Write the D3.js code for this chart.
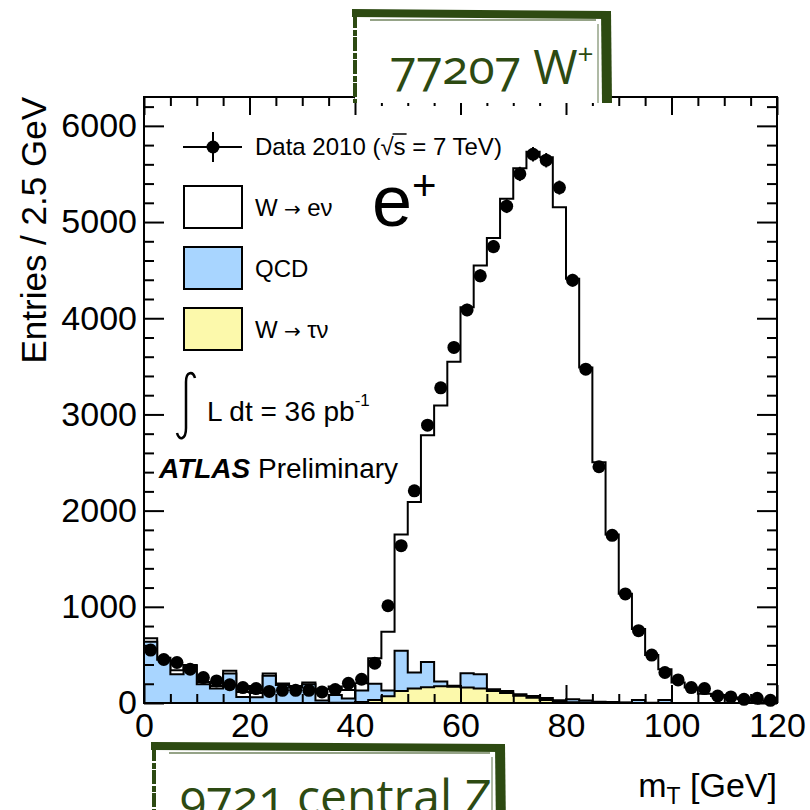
<!DOCTYPE html>
<html>
<head>
<meta charset="utf-8">
<script src="https://cdn.jsdelivr.net/npm/d3@7"></script>
<style>
  body { margin: 0; background: #fff; }
  svg { display: block; }
  .axis text { font-family: "Liberation Sans", Arial, sans-serif; font-size: 34px; fill: #000; }
  .axis line { stroke: #000; stroke-width: 2px; }
  .axis path { display: none; }
</style>
</head>
<body>
<div id="chart"></div>
<script>
'use strict';
// bins of 2.5 GeV from 0 to 120
var binWidth = 2.5;
var data = [550, 452, 421, 351, 264, 230, 190, 160, 150, 120, 132, 132, 132, 115, 140, 205, 247, 414,
    1011, 1636, 2206, 2888, 3277, 3697, 4086, 4441, 4745, 5165, 5500, 5705, 5643, 5358, 4395, 3470,
    2456, 1743, 1134, 752, 498, 317, 240, 160, 150, 73, 63, 38, 49, 28];
var wenu = [35, 20, 40, 10, 24, 27, 28, 52, 45, 24, 14, 17, 17, 117, 90, 87, 75, 264,
    611, 1208, 1773, 2359, 2869, 3367, 3803, 4249, 4691, 5117, 5468, 5659, 5620, 5125, 4372, 3464,
    2488, 1740, 1130, 738, 495, 320, 211, 159, 96, 72, 56, 38, 28, 21];
var qcd = [637, 450, 300, 386, 195, 150, 306, 63, 60, 282, 188, 160, 195, 25, 80, 45, 120, 170,
    60, 418, 167, 260, 48, 10, 150, 150, 18, 20, 15, 18, 23, 13, 30, 20,
    10, 8, 3, 30, 2, 30, 1, 1, 0, 0, 0, 0, 0, 0];
var wtau = [0, 0, 0, 0, 0, 0, 0, 0, 0, 0, 0, 0, 0, 0, 2, 3, 10, 30,
    70, 125, 150, 165, 175, 170, 160, 150, 125, 105, 75, 55, 30, 15, 8, 5,
    4, 3, 2, 1, 1, 1, 0, 0, 0, 0, 0, 0, 0, 0];
var yMajor = [0, 1000, 2000, 3000, 4000, 5000, 6000];
var xMajor = [0, 20, 40, 60, 80, 100, 120];

var width = 810, height = 810;
var frameL = 144, frameR = 777, frameT = 97, frameB = 703;
var fontFamily = '"Liberation Sans", Arial, sans-serif';
var green = '#2d4a12';

var x = d3.scaleLinear().domain([0, 120]).range([frameL, frameR]);
var y = d3.scaleLinear().domain([0, 6300]).range([frameB, frameT]);

var svg = d3.select('#chart').append('svg')
    .attr('width', width)
    .attr('height', height);

// stacked tops
var s1 = wtau.slice();
var s2 = wtau.map(function (v, i) { return v + qcd[i]; });
var s3 = s2.map(function (v, i) { return v + wenu[i]; });

var stepPath = function (vals) {
    var p = 'M' + x(0) + ',' + y(0);
    vals.forEach(function (v, i) {
        p += 'L' + x(i * binWidth) + ',' + y(v) + 'L' + x((i + 1) * binWidth) + ',' + y(v);
    });
    p += 'L' + x(120) + ',' + y(0) + 'Z';
    return p;
};

var hists = svg.append('g').attr('class', 'hists');
[[s3, '#ffffff'], [s2, '#a8d5ff'], [s1, '#fcf9ab']].forEach(function (h) {
    hists.append('path')
        .attr('d', stepPath(h[0]))
        .attr('fill', h[1])
        .attr('stroke', '#000')
        .attr('stroke-width', 2)
        .attr('stroke-linejoin', 'miter');
});

// data points with poisson errors
var pts = svg.append('g').attr('class', 'data');
pts.selectAll('line').data(data).enter().append('line')
    .attr('x1', function (d, i) { return x((i + 0.5) * binWidth); })
    .attr('x2', function (d, i) { return x((i + 0.5) * binWidth); })
    .attr('y1', function (d) { return y(d + Math.sqrt(d)); })
    .attr('y2', function (d) { return y(d - Math.sqrt(d)); })
    .attr('stroke', '#000').attr('stroke-width', 2);
pts.selectAll('circle').data(data).enter().append('circle')
    .attr('cx', function (d, i) { return x((i + 0.5) * binWidth); })
    .attr('cy', function (d) { return y(d); })
    .attr('r', 6.5)
    .attr('fill', '#000');

// axes
var yMinor = d3.range(0, 6301, 200).filter(function (v) { return v % 1000 !== 0; });
var xMinor = d3.range(0, 121, 5).filter(function (v) { return v % 20 !== 0; });

svg.append('g').attr('class', 'axis')
    .attr('transform', 'translate(' + frameL + ',0)')
    .call(d3.axisLeft(y).tickValues(yMajor).tickSize(-20).tickPadding(7).tickFormat(d3.format('d')));
svg.append('g').attr('class', 'axis')
    .attr('transform', 'translate(' + frameL + ',0)')
    .call(d3.axisLeft(y).tickValues(yMinor).tickSize(-10).tickFormat(''));
svg.append('g').attr('class', 'axis')
    .attr('transform', 'translate(' + frameR + ',0)')
    .call(d3.axisRight(y).tickValues(yMajor).tickSize(-20).tickFormat(''));
svg.append('g').attr('class', 'axis')
    .attr('transform', 'translate(' + frameR + ',0)')
    .call(d3.axisRight(y).tickValues(yMinor).tickSize(-10).tickFormat(''));

svg.append('g').attr('class', 'axis')
    .attr('transform', 'translate(0,' + frameB + ')')
    .call(d3.axisBottom(x).tickValues(xMajor).tickSize(-18).tickPadding(10));
svg.append('g').attr('class', 'axis')
    .attr('transform', 'translate(0,' + frameB + ')')
    .call(d3.axisBottom(x).tickValues(xMinor).tickSize(-9).tickFormat(''));
svg.append('g').attr('class', 'axis')
    .attr('transform', 'translate(0,' + frameT + ')')
    .call(d3.axisTop(x).tickValues(xMajor).tickSize(-18).tickFormat(''));
svg.append('g').attr('class', 'axis')
    .attr('transform', 'translate(0,' + frameT + ')')
    .call(d3.axisTop(x).tickValues(xMinor).tickSize(-9).tickFormat(''));

svg.append('rect')
    .attr('x', frameL).attr('y', frameT)
    .attr('width', frameR - frameL).attr('height', frameB - frameT)
    .attr('fill', 'none').attr('stroke', '#000').attr('stroke-width', 2);

// axis titles
svg.append('text')
    .attr('transform', 'translate(46,' + frameT + ') rotate(-90)')
    .attr('text-anchor', 'end')
    .attr('font-family', fontFamily).attr('font-size', 35)
    .text('Entries / 2.5 GeV');
var xt = svg.append('text')
    .attr('x', frameR).attr('y', 797)
    .attr('text-anchor', 'end')
    .attr('font-family', fontFamily).attr('font-size', 34);
xt.append('tspan').text('m');
xt.append('tspan').attr('font-size', 23).attr('dy', 7).text('T');
xt.append('tspan').attr('dy', -7).text(' [GeV]');

// legend
var leg = svg.append('g').attr('font-family', fontFamily);
leg.append('line').attr('x1', 183).attr('x2', 242).attr('y1', 147).attr('y2', 147)
    .attr('stroke', '#000').attr('stroke-width', 2);
leg.append('line').attr('x1', 213).attr('x2', 213).attr('y1', 132).attr('y2', 162)
    .attr('stroke', '#000').attr('stroke-width', 2);
leg.append('circle').attr('cx', 213).attr('cy', 147).attr('r', 6.5).attr('fill', '#000');
var dataLabel = leg.append('text').attr('x', 255).attr('y', 155).attr('font-size', 24)
    .text('Data 2010 (\u221As = 7 TeV)');
// overline for the square root
var sqrtNode = dataLabel.node();
var sStart = sqrtNode.getStartPositionOfChar(12);
var sEnd = sqrtNode.getEndPositionOfChar(12);
leg.append('line')
    .attr('x1', sStart.x - 1).attr('x2', sEnd.x + 1)
    .attr('y1', 134).attr('y2', 134)
    .attr('stroke', '#000').attr('stroke-width', 1.5);

var legItems = [['W', 'e\u03BD', '#ffffff', 186], ['QCD', '', '#a8d5ff', 247], ['W', '\u03C4\u03BD', '#fcf9ab', 308]];
legItems.forEach(function (it) {
    leg.append('rect').attr('x', 184).attr('y', it[3]).attr('width', 58).attr('height', 42)
        .attr('fill', it[2]).attr('stroke', '#000').attr('stroke-width', 2);
    var t = leg.append('text').attr('x', 255).attr('y', it[3] + 30).attr('font-size', 24);
    t.append('tspan').text(it[0]);
    if (it[1]) {
        t.append('tspan').attr('font-family', '"DejaVu Sans", sans-serif').attr('font-size', 20).text(' \u2192 ');
        t.append('tspan').text(it[1]);
    }
});

var ep = leg.append('text').attr('x', 372).attr('y', 226).attr('font-size', 72);
ep.append('tspan').text('e');
ep.append('tspan').attr('font-size', 42).attr('dy', -26).text('+');

// luminosity
leg.append('path')
    .attr('d', 'M195,378 C193,371 186,371 186,382 L186,428 C186,440 179,441 177,433')
    .attr('fill', 'none').attr('stroke', '#000').attr('stroke-width', 2.5);
var lumi = leg.append('text').attr('x', 207).attr('y', 421).attr('font-size', 28);
lumi.append('tspan').text('L dt = 36 pb');
lumi.append('tspan').attr('font-size', 17).attr('dy', -15).text('-1');

var atl = leg.append('text').attr('x', 159).attr('y', 478).attr('font-size', 28);
atl.append('tspan').attr('font-weight', 'bold').attr('font-style', 'italic').text('ATLAS');
atl.append('tspan').text(' Preliminary');

// hand drawn boxes
var boxes = [
    { x0: 355, x1: 606, y0: 14, y1: 103, text: '77207 W', sup: '+', tx: 390, ty: 84 },
    { x0: 154, x1: 500, y0: 747, y1: 830, text: '9721 central Z', sup: '', tx: 180, ty: 814 }
];
var deco = svg.append('g');
boxes.forEach(function (b) {
    deco.append('rect').attr('x', b.x0).attr('y', b.y0).attr('width', b.x1 - b.x0).attr('height', b.y1 - b.y0)
        .attr('fill', '#fff');
    deco.append('line').attr('x1', b.x0 - 3).attr('x2', b.x1 + 4).attr('y1', b.y0 - 1).attr('y2', b.y0 + 1)
        .attr('stroke', green).attr('stroke-width', 8);
    deco.append('line').attr('x1', b.x0 + 15).attr('x2', b.x1 - 10).attr('y1', b.y0 + 6).attr('y2', b.y0 + 6)
        .attr('stroke', green).attr('stroke-width', 2).attr('opacity', 0.5);
    deco.append('line').attr('x1', b.x0).attr('x2', b.x0).attr('y1', b.y0).attr('y2', b.y1)
        .attr('stroke', green).attr('stroke-width', 4).attr('stroke-dasharray', '14,2,6,1');
    deco.append('line').attr('x1', b.x1).attr('x2', b.x1 + 1).attr('y1', b.y0 - 3).attr('y2', b.y1)
        .attr('stroke', green).attr('stroke-width', 10);
    deco.append('line').attr('x1', b.x1 - 8).attr('x2', b.x1 - 8).attr('y1', b.y0 + 10).attr('y2', b.y1)
        .attr('stroke', green).attr('stroke-width', 1.5).attr('opacity', 0.5);
    var t = deco.append('text').attr('x', b.tx).attr('y', b.ty)
        .attr('font-family', '"Open Sans", Lato, sans-serif').attr('font-size', 48)
        .attr('fill', green).style('font-variant-numeric', 'oldstyle-nums');
    t.append('tspan').text(b.text);
    if (b.sup) {
        t.append('tspan').attr('font-size', 28).attr('dy', -20).text(b.sup);
    }
});
</script>
</body>
</html>
